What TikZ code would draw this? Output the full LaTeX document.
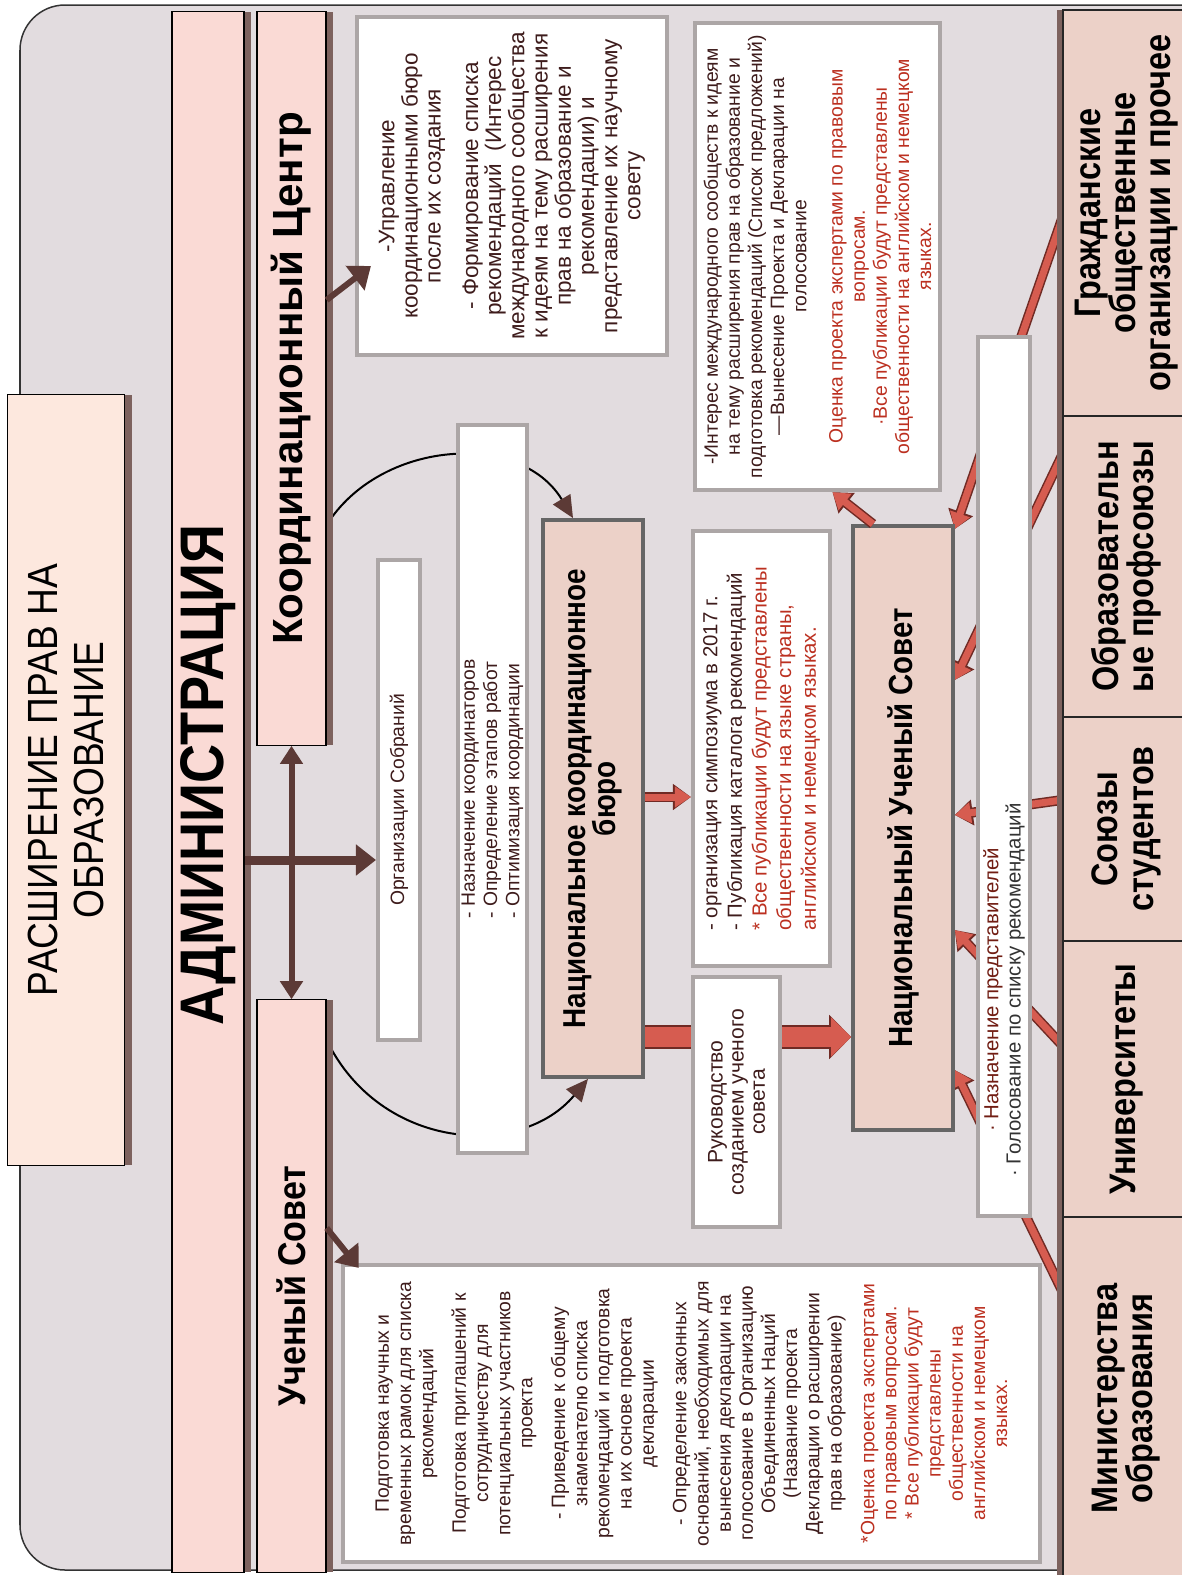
\documentclass[tikz,border=0pt]{standalone}
\usepackage{fontspec}
\setmainfont{Liberation Sans}
\newfontfamily\headfont[FakeStretch=0.88]{Liberation Sans}
\usetikzlibrary{arrows.meta}
\usetikzlibrary{calc}
\usetikzlibrary{backgrounds}
\definecolor{framegray}{RGB}{226,220,223}
\definecolor{barpink}{RGB}{250,218,213}
\definecolor{titlepeach}{RGB}{253,232,222}
\definecolor{headbeige}{RGB}{236,209,200}
\definecolor{shadebrown}{RGB}{125,98,94}
\definecolor{arrowbrown}{RGB}{92,58,54}
\definecolor{arrowred}{RGB}{214,92,80}
\definecolor{arrowdark}{RGB}{112,42,36}
\definecolor{txtdark}{RGB}{62,28,28}
\definecolor{txtred}{RGB}{188,48,32}
\definecolor{bevel}{RGB}{172,166,166}
\tikzset{rot/.style={rotate=90, inner sep=0pt, align=center}}
\tikzset{small/.style={font=\fontsize{5.5}{6.3}\selectfont}}

\begin{document}
\begin{tikzpicture}[x=0.01cm, y=-0.01cm]
    \tikzstyle{titlebox}=[rot, draw=black, line width=0.012cm, fill=titlepeach,
        preaction={fill=shadebrown, transform canvas={xshift=0.07cm}},
        font=\headfont\fontsize{12}{13}\selectfont]
    \tikzstyle{headbar}=[rot, draw=black, line width=0.012cm, fill=barpink,
        preaction={fill=shadebrown, transform canvas={xshift=0.07cm}},
        font=\headfont\bfseries\fontsize{11}{12}\selectfont]
    \tikzstyle{whitebox}=[rot, draw=bevel, line width=0.04cm, fill=white, text=txtdark]
    \tikzstyle{headbox}=[rot, draw=black!60, line width=0.035cm, fill=headbeige,
        font=\headfont\bfseries\fontsize{9}{8.7}\selectfont]
    \tikzstyle{groupbox}=[rot, draw=black!85, line width=0.02cm, fill=headbeige,
        preaction={fill=shadebrown, transform canvas={xshift=-0.06cm}},
        font=\headfont\bfseries\fontsize{10.5}{10}\selectfont]
    \tikzstyle{brownarrow}=[draw=arrowbrown, line width=0.09cm,
        -{Triangle[length=0.2cm,width=0.3cm]}]
    \tikzstyle{dblarrow}=[draw=arrowbrown, line width=0.06cm,
        {Triangle[length=0.18cm,width=0.22cm]}-{Triangle[length=0.18cm,width=0.22cm]}]
    \tikzstyle{arcline}=[draw=black, line width=0.02cm,
        -{Triangle[length=0.22cm,width=0.2cm,color=arrowbrown]}]
    \tikzstyle{redarrow}=[draw=arrowred, line width=0.07cm,
        -{Triangle[length=0.16cm,width=0.2cm]},
        preaction={draw=arrowdark, line width=0.1cm, -{Triangle[length=0.18cm,width=0.25cm]}}]
    \tikzstyle{bigred}=[draw=arrowred, line width=0.2cm,
        -{Triangle[length=0.2cm,width=0.38cm]},
        preaction={draw=arrowdark, line width=0.24cm, -{Triangle[length=0.22cm,width=0.43cm]}}]

    \useasboundingbox (0,0) rectangle (1182,1575);

    % Draw the frame
    \begin{pgfonlayer}{background}
        \draw[draw=black!80, line width=0.015cm, fill=framegray, rounded corners=0.45cm]
            (20,5) rectangle (1280,1570);
    \end{pgfonlayer}

    % Draw the title and the bars
    \node[titlebox, minimum width=7.7cm, minimum height=1.17cm] (title) at (66,780)
        {РАСШИРЕНИЕ ПРАВ НА\\ОБРАЗОВАНИЕ};
    \node[headbar, minimum width=15.6cm, minimum height=0.72cm] (adm) at (208,792) {};
    \node[rot, font=\headfont\bfseries\fontsize{17.5}{18}\selectfont] (admtxt) at (208,775)
        {АДМИНИСТРАЦИЯ};
    \node[headbar, minimum width=7.33cm, minimum height=0.69cm,
        font=\bfseries\fontsize{12}{13}\selectfont] (kc) at (291.5,378.5)
        {Координационный Центр};
    \node[headbar, minimum width=5.72cm, minimum height=0.69cm] (us) at (291.5,1286)
        {Ученый Совет};

    % Draw the boxes of the middle part
    \node[whitebox, minimum width=3.38cm, minimum height=3.1cm,
        font=\fontsize{6.4}{6.6}\selectfont] (kcbox) at (512,186)
        {-Управление\\координационными бюро\\после их создания\\[4pt]
         - Формирование списка\\рекомендаций~ (Интерес\\международного сообщества\\
         к идеям на тему расширения\\прав на образование и\\рекомендации) и\\
         представление их научному\\совету};
    \node[whitebox, minimum width=2.97cm, minimum height=6.97cm, small] (usbox) at (691.5,1413.5)
        {Подготовка научных и\\временных рамок для списка\\рекомендаций\\[3pt]
         Подготовка приглашений к\\сотрудничеству для\\потенциальных участников\\проекта\\[3pt]
         - Приведение к общему\\знаменателю списка\\рекомендаций и подготовка\\
         на их основе проекта\\декларации\\[3pt]
         - Определение законных\\оснований, необходимых для\\вынесения декларации на\\
         голосование в Организацию\\Объединенных Наций\\(Название проекта\\
         Декларации о расширении\\прав на образование)\\[3pt]
         \color{txtred}*Оценка проекта экспертами\\\color{txtred}по правовым вопросам.\\
         \color{txtred}* Все публикации будут\\\color{txtred}представлены\\
         \color{txtred}общественности на\\\color{txtred}английском и немецком\\
         \color{txtred}языках.};
    \node[whitebox, minimum width=4.8cm, minimum height=0.42cm, small] (org) at (399,800)
        {Организации Собраний};
    \node[whitebox, minimum width=7.28cm, minimum height=0.69cm, small, align=left] (coord)
        at (492.5,789)
        {- Назначение координаторов\\- Определение этапов работ\\- Оптимизация координации};
    \node[headbox, minimum width=5.57cm, minimum height=1cm] (nb) at (593,798.5)
        {Национальное координационное\\бюро};
    \node[whitebox, minimum width=4.35cm, minimum height=1.37cm, align=left,
        font=\fontsize{5.8}{7}\selectfont] (symp) at (761.5,748.5)
        {- организация симпозиума в 2017 г.\\- Публикация каталога рекомендаций\\
         \color{txtred}* Все публикации будут представлены\\
         \color{txtred}общественности на языке страны,\\
         \color{txtred}английском и немецком языках.};
    \node[whitebox, minimum width=2.5cm, minimum height=0.87cm,
        font=\fontsize{6}{6}\selectfont] (guide) at (736.5,1102)
        {Руководство\\созданием ученого\\совета};
    \node[whitebox, minimum width=4.67cm, minimum height=2.45cm, small] (inter) at (817.5,256.5)
        {-Интерес международного сообществ к идеям\\на тему расширения прав на образование и\\
         подготовка рекомендаций (Список предложений)\\—Вынесение Проекта и Декларации на\\
         голосование\\[4pt]
         \color{txtred}Оценка проекта экспертами по правовым\\\color{txtred}вопросам.\\
         \color{txtred}·Все публикации будут представлены\\
         \color{txtred}общественности на английском и немецком\\\color{txtred}языках.};
    \node[headbox, minimum width=6.04cm, minimum height=1cm,
        font=\headfont\bfseries\fontsize{9.5}{10}\selectfont] (nus) at (903,828)
        {Национальный Ученый Совет};
    \node[whitebox, minimum width=8.79cm, minimum height=0.52cm] (vote) at (1004,776.5) {};
    \node[rot, font=\fontsize{5.8}{6.3}\selectfont] (votetxt) at (1004,990)
        {\color{txtred!60!black}· Назначение представителей\\
         \color{black!80}· Голосование по списку рекомендаций};

    % Draw the groups of the bottom row
    \foreach \name/\y/\w/\txt in {grazh/213/4.06/{Гражданские\\общественные\\организации и прочее},
                                  obraz/566.5/3.01/{Образовательн\\ые профсоюзы},
                                  soyuz/829/2.24/{Союзы\\студентов},
                                  univ/1079/2.76/{Университеты},
                                  minist/1398.5/3.63/{Министерства\\образования}}
        \node[groupbox, minimum width=\w cm, minimum height=1.27cm] (\name) at (1126.5,\y) {\txt};

    % Connect the bars with the boxes
    \draw[dblarrow] (kc) -- (us);
    \draw[brownarrow] (adm.south |- 0,860) -- (org.north |- 0,860);
    \draw[brownarrow, line width=0.06cm] (kc.south |- 0,300) -- ($(kcbox.north)+(16,80)$);
    \draw[brownarrow, line width=0.06cm] (us.south |- 0,1228) -- ($(usbox.north east)+(18,5)$);
    \draw[redarrow] (nb.south |- 0,797) -- (symp.north |- 0,797);
    \draw[redarrow] ($(nus.east)+(-30,0)$) -- ($(inter.west)+(15,0)$);

    % Arrows that pass under the boxes
    \begin{pgfonlayer}{background}
        \draw[arcline] (kc.south |- 0,525) .. controls (380,440) and (520,430) .. ($(nb.east)+(-20,0)$);
        \draw[arcline] (us.south |- 0,1040) .. controls (380,1150) and (520,1160) .. ($(nb.west)+(-5,0)$);
        \draw[bigred] (nb.south |- 0,1037) -- (nus.north |- 0,1037);
        \foreach \source/\dy/\dest in {grazh/6/529, obraz/-111/680, soyuz/-29/815,
                                       univ/-34/930, minist/-108/1070}
            \draw[redarrow] ($(\source.north)+(0,\dy)$) -- (nus.south |- 0,\dest);
    \end{pgfonlayer}
\end{tikzpicture}
\end{document}
